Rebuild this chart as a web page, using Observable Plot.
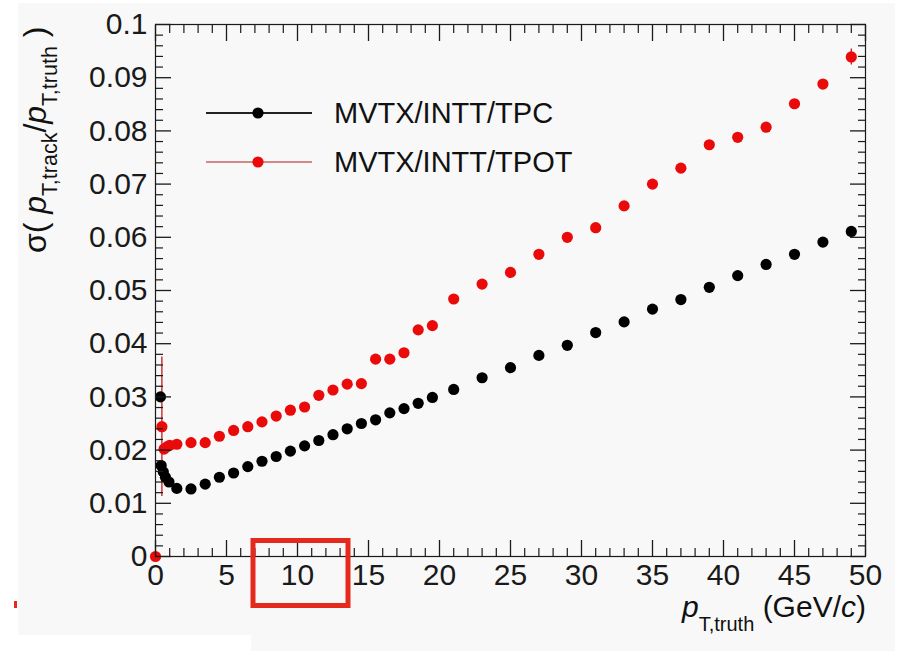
<!DOCTYPE html>
<html>
<head>
<meta charset="utf-8">
<script src="https://cdn.jsdelivr.net/npm/d3@7"></script>
<script src="https://cdn.jsdelivr.net/npm/@observablehq/plot@0.6"></script>
<style>
  html, body { margin: 0; padding: 0; background: #ffffff; }
  #wrap { position: relative; width: 901px; height: 651px; overflow: hidden; font-family: "Liberation Sans", Arial, Helvetica, sans-serif; }
  #panel { position: absolute; left: 18px; top: 3px; width: 877px; height: 648px; background: #f8f8f8; }
  #patch { position: absolute; left: 18px; top: 635px; width: 233px; height: 16px; background: #ffffff; }
  #chart { position: absolute; left: 0; top: 0; }
  #overlay { position: absolute; left: 0; top: 0; pointer-events: none; }
</style>
</head>
<body>
<div id="wrap">
  <div id="panel"></div>
  <div id="patch"></div>
  <div id="chart"></div>
  <svg id="overlay" width="901" height="651"></svg>
</div>
<script>
// ---- data ----
const seriesNames = ["MVTX/INTT/TPC", "MVTX/INTT/TPOT"];
const seriesColors = ["#000000", "#ea0a0a"];

const tpcX = [0.35, 0.4, 0.55, 0.7, 0.95, 1.5, 2.5, 3.5, 4.5, 5.5, 6.5, 7.5, 8.5, 9.5, 10.5, 11.5, 12.5, 13.5, 14.5, 15.5, 16.5, 17.5, 18.5, 19.5, 21, 23, 25, 27, 29, 31, 33, 35, 37, 39, 41, 43, 45, 47, 49];
const tpcY = [0.0300, 0.0171, 0.0159, 0.0149, 0.0140, 0.0128, 0.0127, 0.0136, 0.0149, 0.0157, 0.0169, 0.0179, 0.0188, 0.0198, 0.0208, 0.0218, 0.0229, 0.0240, 0.0250, 0.0257, 0.0270, 0.0278, 0.0288, 0.0299, 0.0314, 0.0336, 0.0355, 0.0378, 0.0397, 0.0421, 0.0441, 0.0465, 0.0483, 0.0506, 0.0528, 0.0549, 0.0568, 0.0591, 0.0611];

const tpotX = [0, 0.45, 0.6, 0.8, 1.0, 1.5, 2.5, 3.5, 4.5, 5.5, 6.5, 7.5, 8.5, 9.5, 10.5, 11.5, 12.5, 13.5, 14.5, 15.5, 16.5, 17.5, 18.5, 19.5, 21, 23, 25, 27, 29, 31, 33, 35, 37, 39, 41, 43, 45, 47, 49];
const tpotY = [0, 0.0244, 0.0202, 0.0206, 0.0209, 0.0211, 0.0214, 0.0214, 0.0226, 0.0237, 0.0244, 0.0253, 0.0264, 0.0275, 0.0281, 0.0303, 0.0313, 0.0324, 0.0325, 0.0371, 0.0371, 0.0383, 0.0426, 0.0434, 0.0484, 0.0512, 0.0534, 0.0568, 0.0600, 0.0618, 0.0659, 0.0700, 0.0730, 0.0774, 0.0788, 0.0807, 0.0851, 0.0888, 0.0939];
// vertical error (half-width); 0 where no bar is visible
const tpotErr = [0, 0.0131, 0, 0, 0, 0, 0, 0, 0, 0, 0, 0, 0, 0, 0, 0, 0, 0, 0, 0, 0, 0, 0, 0, 0, 0, 0, 0, 0, 0, 0, 0, 0, 0, 0, 0, 0, 0, 0.0015];

const xMajor = [0, 5, 10, 15, 20, 25, 30, 35, 40, 45, 50];
const xMinor = d3.range(0, 51, 1).filter(v => v % 5 !== 0);
const yMajor = [0, 0.01, 0.02, 0.03, 0.04, 0.05, 0.06, 0.07, 0.08, 0.09, 0.1];
const yMajorLabels = ["0", "0.01", "0.02", "0.03", "0.04", "0.05", "0.06", "0.07", "0.08", "0.09", "0.1"];
const yMinor = d3.range(0, 51, 1).filter(v => v % 5 !== 0).map(v => v * 0.002);

// ---- tables built from the arrays ----
const tpc = tpcX.map((x, i) => ({x, y: tpcY[i]}));
const tpot = tpotX.map((x, i) => ({x, y: tpotY[i], lo: tpotY[i] - tpotErr[i], hi: tpotY[i] + tpotErr[i], e: tpotErr[i]}));
const tpotBars = tpot.filter(d => d.e > 0);

const FONT = '"Liberation Sans", Arial, Helvetica, sans-serif';
const axisColor = "#1a1a1a";

const chart = Plot.plot({
  width: 901,
  height: 651,
  marginLeft: 155,
  marginRight: 36,
  marginTop: 24,
  marginBottom: 95,
  x: {domain: [0, 50]},
  y: {domain: [0, 0.1]},
  style: {background: "transparent", fontFamily: FONT, fontSize: "30px", color: axisColor, overflow: "visible"},
  marks: [
    // error bars
    Plot.ruleX(tpotBars, {x: "x", y1: "lo", y2: "hi", stroke: "#c41a1a", strokeWidth: 1.3}),
    // points
    Plot.dot(tpc, {x: "x", y: "y", r: 5.6, fill: seriesColors[0], stroke: "none"}),
    Plot.dot(tpot, {x: "x", y: "y", r: 5.6, fill: seriesColors[1], stroke: "none"}),
    // frame & inward ticks on all four sides
    Plot.frame({stroke: axisColor, strokeWidth: 1.2}),
    Plot.axisX({ticks: xMajor, anchor: "bottom", tickSize: -16, tickPadding: 23, label: null, fontSize: 30, strokeWidth: 1.3, tickFormat: d => String(d)}),
    Plot.axisX({ticks: xMinor, anchor: "bottom", tickSize: -8, label: null, strokeWidth: 1.2, tickFormat: () => ""}),
    Plot.axisX({ticks: xMajor, anchor: "top", tickSize: -16, label: null, strokeWidth: 1.3, tickFormat: () => ""}),
    Plot.axisX({ticks: xMinor, anchor: "top", tickSize: -8, label: null, strokeWidth: 1.2, tickFormat: () => ""}),
    Plot.axisY({ticks: yMajor, anchor: "left", tickSize: -16, tickPadding: 24, label: null, fontSize: 30, strokeWidth: 1.3, tickFormat: d => yMajorLabels[yMajor.indexOf(d)]}),
    Plot.axisY({ticks: yMinor, anchor: "left", tickSize: -8, label: null, strokeWidth: 1.2, tickFormat: () => ""}),
    Plot.axisY({ticks: yMajor, anchor: "right", tickSize: -16, label: null, strokeWidth: 1.3, tickFormat: () => ""}),
    Plot.axisY({ticks: yMinor, anchor: "right", tickSize: -8, label: null, strokeWidth: 1.2, tickFormat: () => ""})
  ]
});
document.getElementById("chart").appendChild(chart);

// ---- titles, legend and annotation overlay ----
const ov = d3.select("#overlay").style("font-family", FONT);

// y-axis title: σ( p_{T,track}/p_{T,truth} )
const yt = ov.append("text")
  .attr("transform", "translate(46,253) rotate(-90)")
  .attr("font-size", 32).attr("fill", "#111");
yt.append("tspan").text("σ( ");
yt.append("tspan").attr("font-style", "italic").text("p");
yt.append("tspan").attr("font-size", 21.5).attr("dy", 11).text("T,track");
yt.append("tspan").attr("dy", -11).text("/");
yt.append("tspan").attr("font-style", "italic").text("p");
yt.append("tspan").attr("font-size", 21.5).attr("dy", 11).text("T,truth");
yt.append("tspan").attr("dy", -11).text(" )");

// x-axis title: p_{T,truth} (GeV/c)
const xt = ov.append("text")
  .attr("x", 866).attr("y", 617).attr("text-anchor", "end")
  .attr("font-size", 30).attr("fill", "#111");
xt.append("tspan").attr("font-style", "italic").text("p");
xt.append("tspan").attr("font-size", 20).attr("dy", 14).text("T,truth");
xt.append("tspan").attr("dy", -14).text(" (GeV/");
xt.append("tspan").attr("font-style", "italic").text("c");
xt.append("tspan").text(")");

// legend
const legendRows = [
  {y: 113, line: "#222222", lw: 2.2},
  {y: 162, line: "#b01818", lw: 1.2}
];
seriesNames.forEach((name, i) => {
  const row = legendRows[i];
  ov.append("line").attr("x1", 206).attr("x2", 312).attr("y1", row.y).attr("y2", row.y)
    .attr("stroke", row.line).attr("stroke-width", row.lw);
  ov.append("circle").attr("cx", 258).attr("cy", row.y).attr("r", 5.6).attr("fill", seriesColors[i]);
  ov.append("text").attr("x", 334).attr("y", row.y + 10).attr("font-size", 29).attr("fill", "#111").text(name);
});

// red highlight box around the "10" tick label
ov.append("rect").attr("x", 253).attr("y", 540.5).attr("width", 95).attr("height", 65)
  .attr("fill", "none").attr("stroke", "#e42a1c").attr("stroke-width", 5);
ov.append("rect").attr("x", 14).attr("y", 601).attr("width", 3).attr("height", 7).attr("fill", "#e42a1c");
</script>
</body>
</html>
